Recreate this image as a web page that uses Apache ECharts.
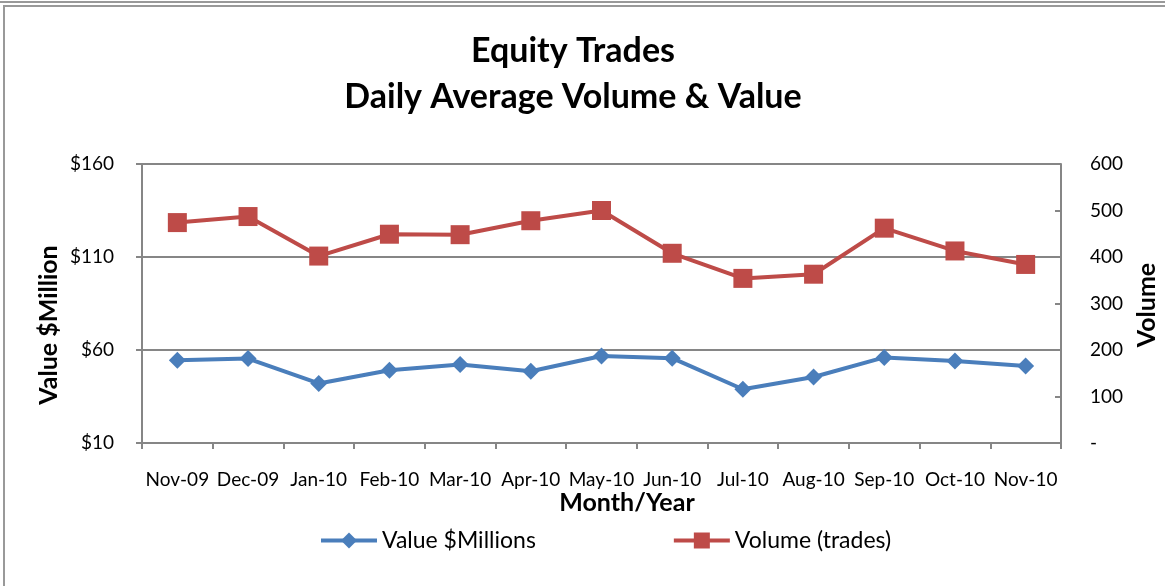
<!DOCTYPE html>
<html>
<head>
<meta charset="utf-8">
<script src="https://cdn.jsdelivr.net/npm/echarts@6/dist/echarts.min.js"></script>
<style>
  html, body { margin: 0; padding: 0; background: #fff; }
  #chart { width: 1165px; height: 586px; }
</style>
</head>
<body>
<div id="chart"></div>
<script>
// 月份 / 数据
var months = ['Nov-09', 'Dec-09', 'Jan-10', 'Feb-10', 'Mar-10', 'Apr-10', 'May-10',
              'Jun-10', 'Jul-10', 'Aug-10', 'Sep-10', 'Oct-10', 'Nov-10'];
var valueMillions = [54.5, 55.4, 42, 49.1, 52.2, 48.6, 56.8, 55.6, 38.9, 45.5, 56, 54.1, 51.4];
var volumeTrades = [474, 487, 402, 449, 448, 478, 500, 408, 354, 363, 462, 413, 384];

(function () {
    var chart = echarts.init(document.getElementById('chart'));
    var font = 'Lato, "Open Sans", sans-serif';
    var grey = '#868686';

    var option = {
        backgroundColor: '#fff',
        textStyle: { fontFamily: font },
        title: {
            text: 'Equity Trades\nDaily Average Volume & Value',
            left: 568,
            top: 23,
            textAlign: 'center',
            textStyle: { fontSize: 34, fontWeight: 'bold', color: '#000', lineHeight: 46, fontFamily: font }
        },
        legend: {
            left: 314,
            top: 524,
            itemWidth: 56,
            itemHeight: 20,
            itemGap: 136,
            lineStyle: { width: 4 },
            textStyle: { fontSize: 23, color: '#000', fontFamily: font },
            data: ['Value $Millions', 'Volume (trades)']
        },
        grid: { left: 142, right: 104, top: 164, bottom: 143 },
        xAxis: {
            type: 'category',
            data: months,
            boundaryGap: true,
            axisLine: { lineStyle: { color: grey, width: 2 } },
            axisTick: { show: true, interval: 0, length: 6, lineStyle: { color: grey, width: 2 } },
            axisLabel: { interval: 0, color: '#000', fontSize: 19, margin: 27, fontFamily: font }
        },
        yAxis: [
            {
                type: 'value',
                min: 10,
                max: 160,
                interval: 50,
                axisLine: { show: true, lineStyle: { color: grey, width: 2 } },
                axisTick: { show: true, length: 6, lineStyle: { color: grey, width: 2 } },
                splitLine: { lineStyle: { color: grey, width: 2 } },
                axisLabel: {
                    color: '#000', fontSize: 19, margin: 28, fontFamily: font,
                    formatter: function (v) { return '$' + v; }
                }
            },
            {
                type: 'value',
                min: 0,
                max: 600,
                interval: 100,
                position: 'right',
                axisLine: { show: true, lineStyle: { color: grey, width: 2 } },
                axisTick: { show: true, length: 6, inside: true, lineStyle: { color: grey, width: 2 } },
                splitLine: { show: false },
                axisLabel: {
                    color: '#000', fontSize: 19, margin: 29, fontFamily: font,
                    formatter: function (v) { return v === 0 ? '-' : String(v); }
                }
            }
        ],
        graphic: [
            { type: 'rect', shape: { x: 0, y: 2, width: 1165, height: 0 }, style: { stroke: '#999', lineWidth: 2, fill: null } },
            { type: 'rect', shape: { x: 4, y: 6, width: 1170, height: 600 }, style: { stroke: '#999', lineWidth: 2, fill: null } },
            {
                type: 'text', x: 627, y: 503,
                style: { text: 'Month/Year', font: 'bold 25px ' + font, fill: '#000', align: 'center', verticalAlign: 'middle' }
            },
            {
                type: 'text', x: 49, y: 325, rotation: Math.PI / 2,
                style: { text: 'Value $Million', font: 'bold 25px ' + font, fill: '#000', align: 'center', verticalAlign: 'middle' }
            },
            {
                type: 'text', x: 1147, y: 305, rotation: Math.PI / 2,
                style: { text: 'Volume', font: 'bold 25px ' + font, fill: '#000', align: 'center', verticalAlign: 'middle' }
            }
        ],
        series: [
            {
                name: 'Value $Millions',
                type: 'line',
                yAxisIndex: 0,
                data: valueMillions,
                symbol: 'diamond',
                symbolSize: 17,
                color: '#4A7EBB',
                lineStyle: { width: 4, color: '#4A7EBB' },
                itemStyle: { color: '#4A7EBB' },
                animation: false
            },
            {
                name: 'Volume (trades)',
                type: 'line',
                yAxisIndex: 1,
                data: volumeTrades,
                symbol: 'rect',
                symbolSize: 19,
                color: '#BE4B48',
                lineStyle: { width: 4, color: '#BE4B48' },
                itemStyle: { color: '#BE4B48' },
                animation: false
            }
        ]
    };

    chart.setOption(option);
})();
</script>
</body>
</html>
